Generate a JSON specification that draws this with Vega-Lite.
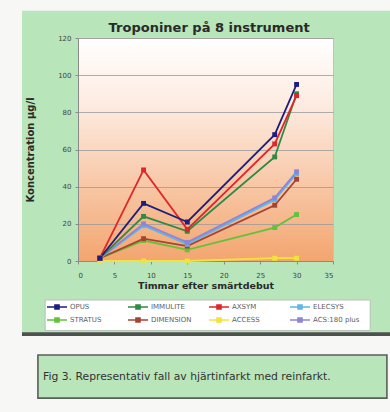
{
  "$schema": "https://vega.github.io/schema/vega-lite/v6.json",
  "width": 255,
  "height": 223,
  "autosize": {"type": "none"},
  "padding": {"left": 78, "top": 38, "right": 57, "bottom": 151},
  "background": "#b9e5ba",
  "config": {
    "font": "DejaVu Sans",
    "view": {
      "stroke": "#c9c0b8",
      "fill": {
        "gradient": "linear",
        "x1": 0, "y1": 0, "x2": 0, "y2": 1,
        "stops": [
          {"offset": 0, "color": "#ffffff"},
          {"offset": 0.3, "color": "#fdebe0"},
          {"offset": 1, "color": "#f3a56f"}
        ]
      }
    },
    "axis": {
      "labelFont": "DejaVu Sans",
      "labelFontSize": 7,
      "labelColor": "#444444",
      "labelOverlap": false,
      "titleFont": "DejaVu Sans",
      "titleFontWeight": "bold",
      "titleColor": "#2a2a2a",
      "domainColor": "#8a8a8a",
      "tickColor": "#8a8a8a",
      "tickSize": 3,
      "gridColor": "#9a9a9a",
      "gridWidth": 0.8
    },
    "axisX": {"tickCount": 8, "grid": false, "labelPadding": 7, "titlePadding": 2, "titleFontSize": 9.5},
    "axisY": {"tickCount": 7, "grid": true, "labelPadding": 4, "titlePadding": 22, "titleFontSize": 10},
    "legend": {
      "orient": "none",
      "legendX": -31,
      "legendY": 259,
      "direction": "horizontal",
      "columns": 4,
      "gridAlign": "all",
      "columnPadding": 11,
      "rowPadding": 0,
      "labelFont": "DejaVu Sans",
      "labelFontSize": 7,
      "labelColor": "#606060",
      "labelOffset": 3,
      "symbolType": "M-1,-0.08H1V0.08H-1Z M-0.28,-0.28H0.28V0.28H-0.28Z",
      "symbolSize": 400,
      "symbolStrokeWidth": 0,
      "symbolOpacity": 1
    }
  },
  "layer": [
    {
      "data": {"name": "troponin"},
      "mark": {"type": "line", "strokeWidth": 1.8},
      "encoding": {
        "x": {
          "field": "timmar", "type": "quantitative",
          "scale": {"domain": [0, 35], "nice": false},
          "axis": {"values": [0, 5, 10, 15, 20, 25, 30, 35], "title": "Timmar efter smärtdebut"}
        },
        "y": {
          "field": "konc", "type": "quantitative",
          "scale": {"domain": [0, 120], "nice": false},
          "axis": {"values": [0, 20, 40, 60, 80, 100, 120], "title": "Koncentration µg/l"}
        },
        "color": {
          "field": "instrument", "type": "nominal",
          "scale": {
            "domain": ["OPUS", "IMMULITE", "AXSYM", "ELECSYS", "STRATUS", "DIMENSION", "ACCESS", "ACS:180 plus"],
            "range": ["#1c1f7e", "#2f8a44", "#e0262a", "#5fb6e8", "#62c23a", "#a8432e", "#f2e33c", "#8c86d6"]
          },
          "legend": {"title": null}
        }
      }
    },
    {
      "data": {"name": "troponin"},
      "mark": {"type": "point", "shape": "square", "filled": true, "size": 24, "opacity": 1},
      "encoding": {
        "x": {"field": "timmar", "type": "quantitative", "scale": {"domain": [0, 35], "nice": false}},
        "y": {"field": "konc", "type": "quantitative", "scale": {"domain": [0, 120], "nice": false}},
        "color": {"field": "instrument", "type": "nominal", "legend": {"title": null}}
      }
    },
    {
      "data": {"values": [{}]},
      "mark": {"type": "rect", "clip": false, "fill": "#f7f7f5"},
      "encoding": {
        "x": {"datum": -12, "type": "quantitative", "scale": {"domain": [0, 35], "nice": false}},
        "x2": {"datum": -7.69},
        "y": {"datum": 150, "type": "quantitative", "scale": {"domain": [0, 120], "nice": false}},
        "y2": {"datum": -90}
      }
    },
    {
      "data": {"values": [{}]},
      "mark": {"type": "rect", "clip": false, "fill": "#f7f7f5"},
      "encoding": {
        "x": {"datum": -12, "type": "quantitative", "scale": {"domain": [0, 35], "nice": false}},
        "x2": {"datum": 50},
        "y": {"datum": 150, "type": "quantitative", "scale": {"domain": [0, 120], "nice": false}},
        "y2": {"datum": 134.6}
      }
    },
    {
      "data": {"values": [{}]},
      "mark": {"type": "rect", "clip": false, "fill": "#f7f7f5"},
      "encoding": {
        "x": {"datum": -12, "type": "quantitative", "scale": {"domain": [0, 35], "nice": false}},
        "x2": {"datum": 50},
        "y": {"datum": -40.4, "type": "quantitative", "scale": {"domain": [0, 120], "nice": false}},
        "y2": {"datum": -90}
      }
    },
    {
      "data": {"values": [{}]},
      "mark": {"type": "rect", "clip": false, "fill": "#4e524e"},
      "encoding": {
        "x": {"datum": -7.69, "type": "quantitative", "scale": {"domain": [0, 35], "nice": false}},
        "x2": {"datum": 50},
        "y": {"datum": -38.4, "type": "quantitative", "scale": {"domain": [0, 120], "nice": false}},
        "y2": {"datum": -40.4}
      }
    },
    {
      "data": {"values": [{}]},
      "mark": {"type": "rect", "clip": false, "fill": "#ffffff", "stroke": "#b0b8b0", "strokeWidth": 0.8},
      "encoding": {
        "x": {"datum": -4.5, "type": "quantitative", "scale": {"domain": [0, 35], "nice": false}},
        "x2": {"datum": 40.1},
        "y": {"datum": -21.0, "type": "quantitative", "scale": {"domain": [0, 120], "nice": false}},
        "y2": {"datum": -37.4}
      }
    },
    {
      "data": {"values": [{}]},
      "mark": {"type": "rect", "clip": false, "fill": "#b9e5ba", "stroke": "#5a5e5a", "strokeWidth": 1.6},
      "encoding": {
        "x": {"datum": -5.5, "type": "quantitative", "scale": {"domain": [0, 35], "nice": false}},
        "x2": {"datum": 42.4},
        "y": {"datum": -50.6, "type": "quantitative", "scale": {"domain": [0, 120], "nice": false}},
        "y2": {"datum": -73.8}
      }
    },
    {
      "data": {"values": [{}]},
      "mark": {"type": "text", "clip": false, "align": "left", "baseline": "middle", "font": "DejaVu Sans", "fontSize": 10.8, "color": "#333333"},
      "encoding": {
        "x": {"datum": -4.8, "type": "quantitative", "scale": {"domain": [0, 35], "nice": false}},
        "y": {"datum": -62.4, "type": "quantitative", "scale": {"domain": [0, 120], "nice": false}},
        "text": {"value": "Fig 3. Representativ fall av hjärtinfarkt med reinfarkt."}
      }
    },
    {
      "data": {"values": [{}]},
      "mark": {"type": "text", "clip": false, "align": "center", "baseline": "middle", "font": "DejaVu Sans", "fontSize": 13, "fontWeight": "bold", "color": "#2a2a2a"},
      "encoding": {
        "x": {"datum": 18, "type": "quantitative", "scale": {"domain": [0, 35], "nice": false}},
        "y": {"datum": 125.6, "type": "quantitative", "scale": {"domain": [0, 120], "nice": false}},
        "text": {"value": "Troponiner på 8 instrument"}
      }
    }
  ],
  "datasets": {
    "troponin": [
      {"instrument": "ACCESS", "timmar": 3, "konc": 0},
      {"instrument": "ACCESS", "timmar": 9, "konc": 0},
      {"instrument": "ACCESS", "timmar": 15, "konc": 0},
      {"instrument": "ACCESS", "timmar": 27, "konc": 1.5},
      {"instrument": "ACCESS", "timmar": 30, "konc": 1.5},
      {"instrument": "STRATUS", "timmar": 3, "konc": 1.5},
      {"instrument": "STRATUS", "timmar": 9, "konc": 11},
      {"instrument": "STRATUS", "timmar": 15, "konc": 6},
      {"instrument": "STRATUS", "timmar": 27, "konc": 18},
      {"instrument": "STRATUS", "timmar": 30, "konc": 25},
      {"instrument": "DIMENSION", "timmar": 3, "konc": 1.5},
      {"instrument": "DIMENSION", "timmar": 9, "konc": 12},
      {"instrument": "DIMENSION", "timmar": 15, "konc": 8},
      {"instrument": "DIMENSION", "timmar": 27, "konc": 30},
      {"instrument": "DIMENSION", "timmar": 30, "konc": 44},
      {"instrument": "ELECSYS", "timmar": 3, "konc": 1.5},
      {"instrument": "ELECSYS", "timmar": 9, "konc": 19},
      {"instrument": "ELECSYS", "timmar": 15, "konc": 9},
      {"instrument": "ELECSYS", "timmar": 27, "konc": 33},
      {"instrument": "ELECSYS", "timmar": 30, "konc": 47},
      {"instrument": "ACS:180 plus", "timmar": 3, "konc": 1.5},
      {"instrument": "ACS:180 plus", "timmar": 9, "konc": 20},
      {"instrument": "ACS:180 plus", "timmar": 15, "konc": 10},
      {"instrument": "ACS:180 plus", "timmar": 27, "konc": 34},
      {"instrument": "ACS:180 plus", "timmar": 30, "konc": 48},
      {"instrument": "IMMULITE", "timmar": 3, "konc": 1.5},
      {"instrument": "IMMULITE", "timmar": 9, "konc": 24},
      {"instrument": "IMMULITE", "timmar": 15, "konc": 16},
      {"instrument": "IMMULITE", "timmar": 27, "konc": 56},
      {"instrument": "IMMULITE", "timmar": 30, "konc": 90},
      {"instrument": "AXSYM", "timmar": 3, "konc": 1.5},
      {"instrument": "AXSYM", "timmar": 9, "konc": 49},
      {"instrument": "AXSYM", "timmar": 15, "konc": 17},
      {"instrument": "AXSYM", "timmar": 27, "konc": 63},
      {"instrument": "AXSYM", "timmar": 30, "konc": 89},
      {"instrument": "OPUS", "timmar": 3, "konc": 1.5},
      {"instrument": "OPUS", "timmar": 9, "konc": 31},
      {"instrument": "OPUS", "timmar": 15, "konc": 21},
      {"instrument": "OPUS", "timmar": 27, "konc": 68},
      {"instrument": "OPUS", "timmar": 30, "konc": 95}
    ]
  }
}
